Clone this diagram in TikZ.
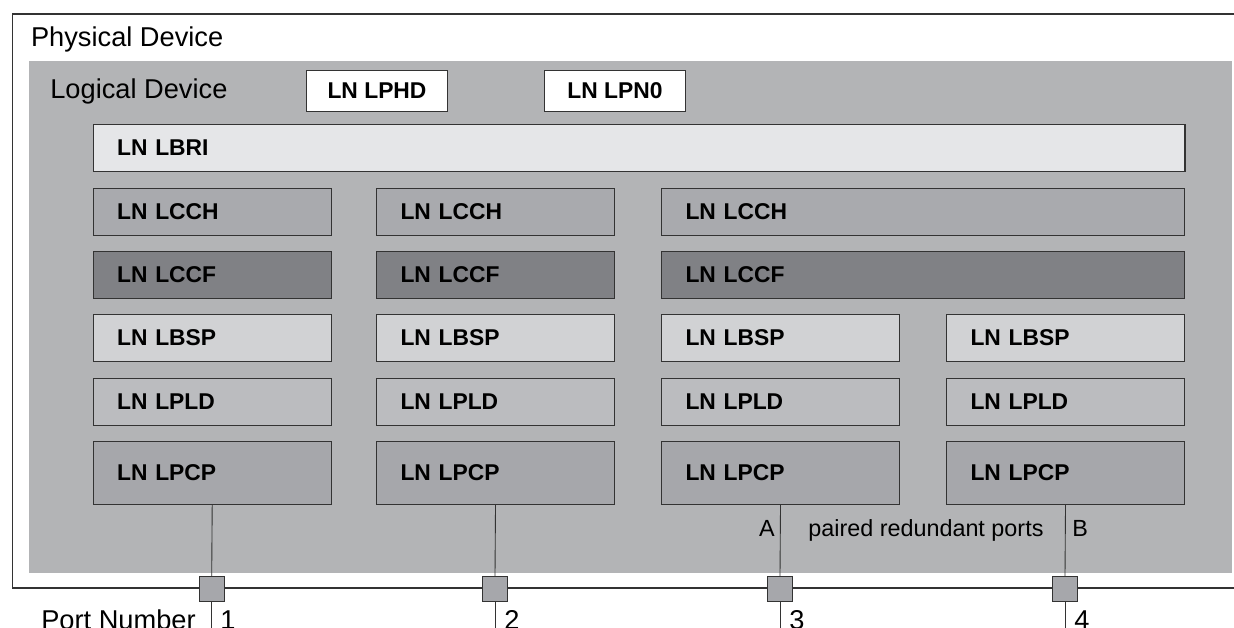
\documentclass[tikz,border=0pt]{standalone}
\usepackage{fontspec}
\setmainfont{Liberation Sans}
\usepackage{tikz}
\usetikzlibrary{positioning}
\definecolor{ldgray}{HTML}{B3B4B6}
\definecolor{lbrigray}{HTML}{E5E6E8}
\definecolor{lcchgray}{HTML}{A9AAAE}
\definecolor{lccfgray}{HTML}{808185}
\definecolor{lbspgray}{HTML}{D1D2D4}
\definecolor{lpldgray}{HTML}{BBBCBF}
\definecolor{lpcpgray}{HTML}{A6A7AB}
\definecolor{edge}{HTML}{333333}

\begin{document}
\begin{tikzpicture}
[x=0.02cm,y=-0.02cm,
lnbox/.style={rectangle,draw=edge,line width=0.6pt,anchor=north west,inner xsep=0.48cm,inner ysep=0pt,align=left,text width=3.8cm,minimum height=0.94cm,font=\fontsize{13}{15}\selectfont\bfseries},
topbox/.style={rectangle,draw=edge,line width=0.6pt,fill=white,anchor=north west,inner sep=0pt,minimum width=2.82cm,minimum height=0.82cm,font=\fontsize{13}{15}\selectfont\bfseries},
port/.style={rectangle,draw=edge,line width=0.6pt,fill=lpcpgray,inner sep=0pt,minimum size=0.5cm},
bigtext/.style={inner sep=0pt,font=\fontsize{15.5}{18}\selectfont},
smalltext/.style={inner sep=0pt,font=\fontsize{13.3}{16}\selectfont}]
\useasboundingbox (0,0) rectangle (1234,628);

% physical device and logical device
\draw [line width=1pt,color=edge] (1240,14) -- (12.5,14) -- (12.5,588) -- (1240,588);
\fill [ldgray] (29,61) rectangle (1232,573);
\node[bigtext,anchor=base west] (pd) at (30.7,47) {Physical Device};
\node[bigtext,anchor=base west] (ld) at (50,99) {Logical Device};

\node[topbox] (lphd) at (306,70) {LN LPHD};
\node[topbox] (lpn0) at (544,70) {LN LPN0};
\node[lnbox,fill=lbrigray,text width=20.88cm] (lbri) at (92.7,124) {LN LBRI};

\node[lnbox,fill=lcchgray] (lcch1) at (92.7,188) {LN LCCH};
\node[lnbox,fill=lcchgray] (lcch2) at (376,188) {LN LCCH};
\node[lnbox,fill=lcchgray,text width=9.5cm] (lcch3) at (661,188) {LN LCCH};

\node[lnbox,fill=lccfgray] (lccf1) at (92.7,251) {LN LCCF};
\node[lnbox,fill=lccfgray] (lccf2) at (376,251) {LN LCCF};
\node[lnbox,fill=lccfgray,text width=9.5cm] (lccf3) at (661,251) {LN LCCF};

\node[lnbox,fill=lbspgray] (lbsp1) at (92.7,314) {LN LBSP};
\node[lnbox,fill=lbspgray] (lbsp2) at (376,314) {LN LBSP};
\node[lnbox,fill=lbspgray] (lbsp3) at (661,314) {LN LBSP};
\node[lnbox,fill=lbspgray] (lbsp4) at (946,314) {LN LBSP};

\node[lnbox,fill=lpldgray] (lpld1) at (92.7,378) {LN LPLD};
\node[lnbox,fill=lpldgray] (lpld2) at (376,378) {LN LPLD};
\node[lnbox,fill=lpldgray] (lpld3) at (661,378) {LN LPLD};
\node[lnbox,fill=lpldgray] (lpld4) at (946,378) {LN LPLD};

\node[lnbox,fill=lpcpgray,minimum height=1.26cm] (lpcp1) at (92.7,441) {LN LPCP};
\node[lnbox,fill=lpcpgray,minimum height=1.26cm] (lpcp2) at (376,441) {LN LPCP};
\node[lnbox,fill=lpcpgray,minimum height=1.26cm] (lpcp3) at (661,441) {LN LPCP};
\node[lnbox,fill=lpcpgray,minimum height=1.26cm] (lpcp4) at (946,441) {LN LPCP};

% ports
\node[port] (p1) at (211.7,589) {};
\node[port] (p2) at (495,589) {};
\node[port] (p3) at (780,589) {};
\node[port] (p4) at (1065,589) {};
\coordinate (e1) at (211.7,630);
\coordinate (e2) at (495,630);
\coordinate (e3) at (780,630);
\coordinate (e4) at (1065,630);

\draw [-,color=edge,line width=0.5pt] (lpcp1.south) -- (p1.north);
\draw [-,color=edge,line width=0.5pt] (lpcp2.south) -- (p2.north);
\draw [-,color=edge,line width=0.5pt] (lpcp3.south) -- (p3.north);
\draw [-,color=edge,line width=0.5pt] (lpcp4.south) -- (p4.north);
\draw [-,color=edge,line width=0.5pt] (p1.south) -- (e1);
\draw [-,color=edge,line width=0.5pt] (p2.south) -- (e2);
\draw [-,color=edge,line width=0.5pt] (p3.south) -- (e3);
\draw [-,color=edge,line width=0.5pt] (p4.south) -- (e4);

\node[smalltext,anchor=base east] (a) at (775,536) {A};
\node[smalltext,anchor=base west] (prp) at (808,536) {paired redundant ports};
\node[smalltext,anchor=base west] (b) at (1072,536) {B};

\node[bigtext,anchor=base east] (pn) at (196,629) {Port Number};
\node[bigtext,anchor=base west] (n1) at (220,629) {1};
\node[bigtext,anchor=base west] (n2) at (504,629) {2};
\node[bigtext,anchor=base west] (n3) at (789,629) {3};
\node[bigtext,anchor=base west] (n4) at (1074,629) {4};
\end{tikzpicture}
\end{document}
